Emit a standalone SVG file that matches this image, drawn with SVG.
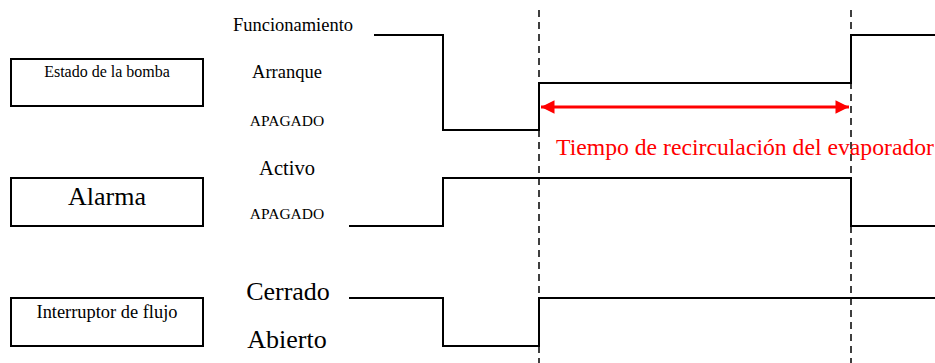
<svg xmlns="http://www.w3.org/2000/svg" width="935" height="363" viewBox="0 0 935 363">
<style>
.box{fill:#fff;stroke:#000;stroke-width:2}
.sig{fill:none;stroke:#000;stroke-width:2}
.dash{fill:none;stroke:#000;stroke-width:1.5;stroke-dasharray:7,5}
</style>
<defs>
<marker id="ah" viewBox="0 0 10 10" refX="10" refY="5" markerWidth="6" markerHeight="4.5" orient="auto-start-reverse" markerUnits="strokeWidth">
<path d="M0,0 L10,5 L0,10 z" fill="#ff0000"/>
</marker>
</defs>
<rect width="935" height="363" fill="#fff"/>
<g id="bomba">
<rect class="box" x="11" y="59" width="192" height="47"/>
<text x="107" y="77" text-anchor="middle" style="font-family:'Liberation Serif',serif;font-size:16px">Estado de la bomba</text>
<text x="293" y="31" text-anchor="middle" style="font-family:'Liberation Serif',serif;font-size:18.5px">Funcionamiento</text>
<text x="287" y="78" text-anchor="middle" style="font-family:'Liberation Serif',serif;font-size:18.5px">Arranque</text>
<text x="287" y="126" text-anchor="middle" style="font-family:'Liberation Serif',serif;font-size:15.5px">APAGADO</text>
</g>
<g id="alarma">
<rect class="box" x="11" y="178" width="192" height="48"/>
<text x="107" y="205" text-anchor="middle" style="font-family:'Liberation Serif',serif;font-size:26px">Alarma</text>
<text x="287" y="175" text-anchor="middle" style="font-family:'Liberation Serif',serif;font-size:20.5px">Activo</text>
<text x="287" y="219" text-anchor="middle" style="font-family:'Liberation Serif',serif;font-size:15.5px">APAGADO</text>
</g>
<g id="interruptor">
<rect class="box" x="11" y="298" width="192" height="48"/>
<text x="107" y="318" text-anchor="middle" style="font-family:'Liberation Serif',serif;font-size:18.4px">Interruptor de flujo</text>
<text x="288" y="300" text-anchor="middle" style="font-family:'Liberation Serif',serif;font-size:26px">Cerrado</text>
<text x="287" y="348" text-anchor="middle" style="font-family:'Liberation Serif',serif;font-size:26px">Abierto</text>
</g>
<g id="connectors">
<line class="dash" x1="539" y1="10" x2="539" y2="363"/>
<line class="dash" x1="851" y1="10" x2="851" y2="363"/>
<polyline class="sig" points="374,35 443,35 443,130 539,130 539,83 851,83 851,35 935,35"/>
<polyline class="sig" points="349,226 443,226 443,178 851,178 851,226 935,226"/>
<polyline class="sig" points="349,298 443,298 443,346 539,346 539,298 935,298"/>
<line x1="541" y1="107" x2="849" y2="107" stroke="#ff0000" stroke-width="3" marker-start="url(#ah)" marker-end="url(#ah)"/>
<text x="556" y="155" fill="#ff0000" style="font-family:'Liberation Serif',serif;font-size:23.7px">Tiempo de recirculación del evaporador</text>
</g>
</svg>
